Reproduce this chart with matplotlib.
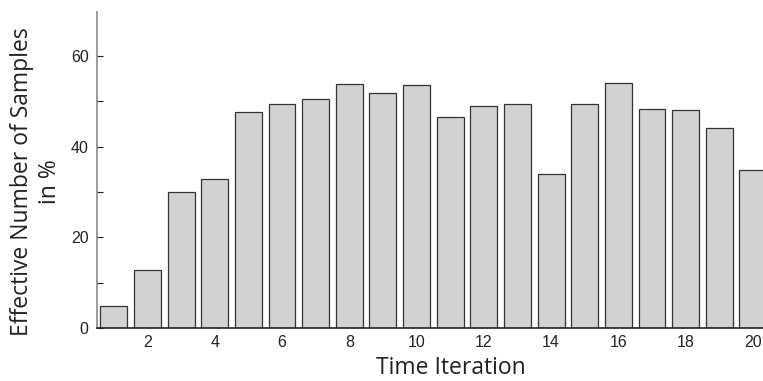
import matplotlib
matplotlib.use("Agg")
import matplotlib.pyplot as plt
from matplotlib.ticker import MultipleLocator

# effective sample size (%) per time iteration
iterations = list(range(1, 21))
ess_pct = [4.8, 12.8, 30.0, 32.9, 47.6, 49.5, 50.5, 53.8, 51.8, 53.5,
           46.5, 48.9, 49.4, 34.0, 49.3, 54.0, 48.2, 48.1, 44.2, 34.9]
xtick_vals = [2, 4, 6, 8, 10, 12, 14, 16, 18, 20]
ytick_vals = [0, 20, 40, 60]

fig = plt.figure(figsize=(7.63, 3.81), dpi=100)
ax = fig.add_axes([97 / 763, 53 / 381, 666 / 763, 316 / 381])

ax.bar(iterations, ess_pct, width=0.8, color="#d1d2d4",
       edgecolor="#333333", linewidth=0.9, zorder=2)

ax.set_xlim(0.5, 20.3)
ax.set_ylim(0, 69.7)
ax.set_xticks(xtick_vals)
ax.set_yticks(ytick_vals)
ax.yaxis.set_minor_locator(MultipleLocator(10))

tick_font = "Liberation Sans"
for lab in ax.get_xticklabels() + ax.get_yticklabels():
    lab.set_fontfamily(tick_font)
    lab.set_fontsize(11.5)
    lab.set_color("#222222")

ax.tick_params(axis="x", length=0, pad=5)
ax.tick_params(axis="y", which="both", direction="in", length=4,
               width=0.8, color="#222222", pad=6)

ax.spines["top"].set_visible(False)
ax.spines["right"].set_visible(False)
ax.spines["left"].set_color("#8a8a8a")
ax.spines["left"].set_linewidth(1.2)
ax.spines["bottom"].set_color("#222222")
ax.spines["bottom"].set_linewidth(1.2)
ax.spines["bottom"].set_zorder(3)

fig.text(451 / 763, 1 - 368 / 381, "Time Iteration", family="Open Sans",
         fontsize=16.5, color="#222222", ha="center", va="center")
fig.text(36 / 763, 1 - 182 / 381, "Effective Number of Samples\nin %",
         family="Open Sans", fontsize=16.5, color="#222222", rotation=90,
         ha="center", va="center", multialignment="center", linespacing=1.25)

fig.savefig("out.png", dpi=100)
